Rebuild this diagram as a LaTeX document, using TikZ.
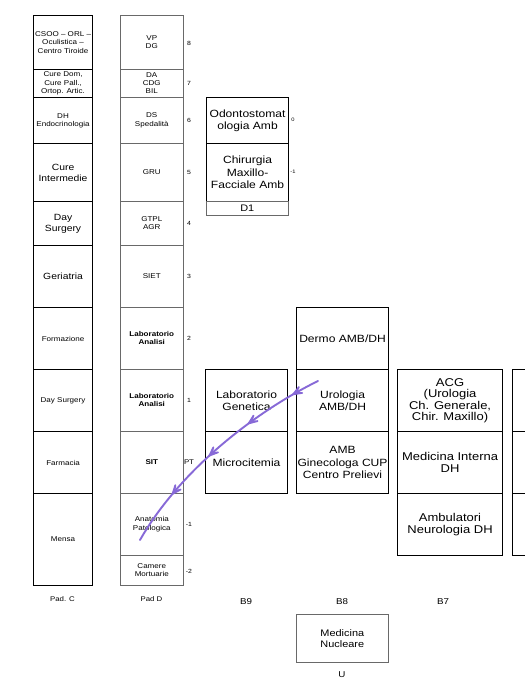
\documentclass[tikz,border=0pt]{standalone}
\usepackage{fontspec}
\setmainfont{Liberation Sans}[FakeStretch=1.15]
\usetikzlibrary{arrows.meta,decorations.markings}
\definecolor{arrowpurple}{RGB}{135,105,215}
\definecolor{padgray}{RGB}{105,105,105}
\tikzset{chev/.tip={Stealth[length=20pt,width=16pt,inset=13pt,round]}}
\begin{document}
\begin{tikzpicture}[x=1pt,y=-1pt,
  padc/.style={draw=black,line width=1.1pt,anchor=north west,inner sep=0.5pt,align=center,font=\fontsize{7}{8.3}\selectfont},
  padcbig/.style={padc,font=\fontsize{9}{10.7}\selectfont},
  padd/.style={draw=padgray,line width=0.55pt,anchor=north west,inner sep=0.5pt,align=center,font=\fontsize{7}{8.3}\selectfont},
  bcell/.style={draw=black,line width=1.1pt,anchor=north west,inner sep=0.5pt,align=center,font=\fontsize{10.5}{12.5}\selectfont},
  bcellw/.style={bcell,font=\fontsize{11.3}{11.5}\selectfont},
  lvl/.style={font=\fontsize{6}{6.5}\selectfont,inner sep=0},
  lab/.style={font=\fontsize{8.5}{10}\selectfont,inner sep=0},
  labs/.style={font=\fontsize{6.8}{8}\selectfont,inner sep=0}]
\fill[white] (0,0) rectangle (525,686);
\clip (0,0) rectangle (525,686);

% Pad. C
\node[padc,minimum width=59pt,minimum height=54pt] (c1) at (33,15) {CSOO -- ORL --\\Oculistica --\\Centro Tiroide};
\node[padc,minimum width=59pt,minimum height=28pt] (c2) at (33,69) {Cure Dom,\\Cure Pall.,\\Ortop. Artic.};
\node[padc,minimum width=59pt,minimum height=46pt] (c3) at (33,97) {DH\\Endocrinologia};
\node[padcbig,minimum width=59pt,minimum height=58pt] (c4) at (33,143) {Cure\\Intermedie};
\node[padcbig,minimum width=59pt,minimum height=44pt] (c5) at (33,201) {Day\\Surgery};
\node[padcbig,minimum width=59pt,minimum height=62pt] (c6) at (33,245) {Geriatria};
\node[padc,minimum width=59pt,minimum height=62pt] (c7) at (33,307) {Formazione};
\node[padc,minimum width=59pt,minimum height=62pt] (c8) at (33,369) {Day Surgery};
\node[padc,minimum width=59pt,minimum height=62pt] (c9) at (33,431) {Farmacia};
\node[padc,minimum width=59pt,minimum height=92pt] (c10) at (33,493) {Mensa};
\node[labs] (padclab) at (62.5,599) {Pad. C};

% Pad D
\node[padd,minimum width=63pt,minimum height=54pt] (d1) at (120,15) {VP\\DG};
\node[padd,minimum width=63pt,minimum height=28pt] (d2) at (120,69) {DA\\CDG\\BIL};
\node[padd,minimum width=63pt,minimum height=46pt] (d3) at (120,97) {DS\\Spedalità};
\node[padd,minimum width=63pt,minimum height=58pt] (d4) at (120,143) {GRU};
\node[padd,minimum width=63pt,minimum height=44pt] (d5) at (120,201) {GTPL\\AGR};
\node[padd,minimum width=63pt,minimum height=62pt] (d6) at (120,245) {SIET};
\node[padd,minimum width=63pt,minimum height=62pt] (d7) at (120,307) {\bfseries Laboratorio\\\bfseries Analisi};
\node[padd,minimum width=63pt,minimum height=62pt] (d8) at (120,369) {\bfseries Laboratorio\\\bfseries Analisi};
\node[padd,minimum width=63pt,minimum height=62pt] (d9) at (120,431) {\bfseries SIT};
\node[padd,minimum width=63pt,minimum height=62pt] (d10) at (120,493) {Anatomia\\Patologica};
\node[padd,minimum width=63pt,minimum height=30pt] (d11) at (120,555) {Camere\\Mortuarie};
\node[labs] (paddlab) at (151.5,599) {Pad D};

\node[lvl] (l8) at (189,43) {8};
\node[lvl] (l7) at (189,83) {7};
\node[lvl] (l6) at (189,120) {6};
\node[lvl] (l5) at (189,172) {5};
\node[lvl] (l4) at (189,223) {4};
\node[lvl] (l3) at (189,276) {3};
\node[lvl] (l2) at (189,338) {2};
\node[lvl] (l1) at (189,400) {1};
\node[lvl,font=\fontsize{6.8}{7}\selectfont] (lpt) at (189,462) {PT};
\node[lvl] (lm1) at (189,524) {-1};
\node[lvl] (lm2) at (189,571) {-2};

% D1
\node[bcell,minimum width=82pt,minimum height=46pt] (o1) at (206,97) {Odontostomat\\ologia Amb};
\node[bcell,minimum width=82pt,minimum height=58pt] (o2) at (206,143) {Chirurgia\\Maxillo-\\Facciale Amb};
\node[padd,font=\fontsize{9.5}{10}\selectfont,minimum width=82pt,minimum height=14pt] (o3) at (206,201) {D1};
\node[lvl,font=\fontsize{5}{6}\selectfont] (lo0) at (293,120) {0};
\node[lvl,font=\fontsize{5}{6}\selectfont] (lo1) at (293,172) {-1};

% B9
\node[bcell,minimum width=82pt,minimum height=62pt] (g1) at (205,369) {Laboratorio\\Genetica};
\node[bcell,minimum width=82pt,minimum height=62pt] (g2) at (205,431) {Microcitemia};
\node[lab] (b9) at (246,602) {B9};

% B8
\node[bcell,minimum width=92pt,minimum height=62pt] (e1) at (296,307) {Dermo AMB/DH};
\node[bcell,minimum width=92pt,minimum height=62pt] (uro) at (296,369) {Urologia\\AMB/DH};
\node[bcell,minimum width=92pt,minimum height=62pt] (e3) at (296,431) {AMB\\Ginecologa CUP\\Centro Prelievi};
\node[lab] (b8) at (342,602) {B8};

% B7
\node[bcellw,minimum width=105pt,minimum height=62pt] (f1) at (397,369) {ACG\\(Urologia\\Ch. Generale,\\Chir. Maxillo)};
\node[bcellw,minimum width=105pt,minimum height=62pt] (f2) at (397,431) {Medicina Interna\\DH};
\node[bcellw,minimum width=105pt,minimum height=62pt] (f3) at (397,493) {Ambulatori\\Neurologia DH};
\node[lab] (b7) at (443,602) {B7};

% partial column at the right edge
\node[bcell,minimum width=40pt,minimum height=62pt] (r1) at (512,369) {};
\node[bcell,minimum width=40pt,minimum height=62pt] (r2) at (512,431) {};
\node[bcell,minimum width=40pt,minimum height=62pt] (r3) at (512,493) {};

% U
\node[draw=padgray,line width=0.7pt,anchor=north west,align=center,inner sep=0.5pt,
      font=\fontsize{9.5}{11}\selectfont,minimum width=92pt,minimum height=48pt] (mn) at (296,614) {Medicina\\Nucleare};
\node[lab] (ulab) at (342,675) {U};

% hand-drawn arrow
\coordinate (p0) at (318,381);
\coordinate (p1) at (140,540);
\draw[arrowpurple,line width=1.9pt,line cap=round,
  decoration={markings,
    mark=at position 0.12 with {\arrow{chev}},
    mark=at position 0.34 with {\arrow{chev}},
    mark=at position 0.55 with {\arrow{chev}},
    mark=at position 0.77 with {\arrow{chev}}},
  postaction={decorate}]
  (p0) .. controls (255,412) and (180,470) .. (p1);
\end{tikzpicture}
\end{document}
